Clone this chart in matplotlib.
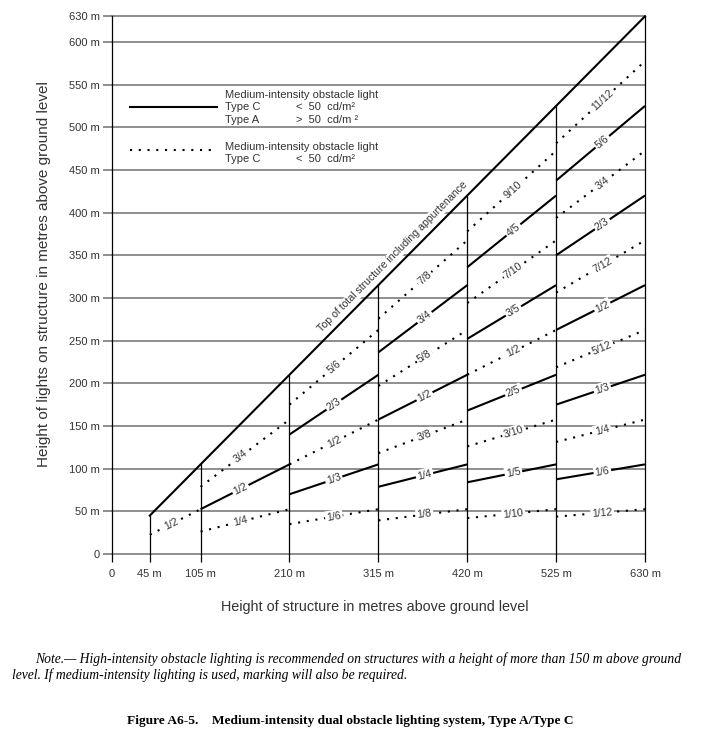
import math
import matplotlib.pyplot as plt
import matplotlib.transforms as mtransforms
from fractions import Fraction

plt.rcParams['font.family'] = ['Liberation Sans', 'DejaVu Sans']

# structure heights where the light levels change
bounds = [45, 105, 210, 315, 420, 525, 630]

# light levels (fraction of structure height) for each interval
fracs = [
    ["1/2"],
    ["1/4", "1/2", "3/4"],
    ["1/6", "1/3", "1/2", "2/3", "5/6"],
    ["1/8", "1/4", "3/8", "1/2", "5/8", "3/4", "7/8"],
    ["1/10", "1/5", "3/10", "2/5", "1/2", "3/5", "7/10", "4/5", "9/10"],
    ["1/12", "1/6", "1/4", "1/3", "5/12", "1/2", "7/12", "2/3", "3/4", "5/6", "11/12"],
]

yticks = [0, 50, 100, 150, 200, 250, 300, 350, 400, 450, 500, 550, 600, 630]
ytick_labels = ["0"] + [f"{v} m" for v in yticks[1:]]
xticks = [0] + bounds
xtick_labels = ["0"] + [f"{v} m" for v in bounds]

# where along each interval the fraction label sits
label_pos = [0.43, 0.45, 0.5, 0.52, 0.52, 0.52]

grey = '#707070'
txt = '#333333'
dots = (0, (1, 3.2))

fig = plt.figure(figsize=(7.02, 7.54), dpi=100)
ax = fig.add_axes([111.7 / 702, 1 - 554 / 754, (645 - 111.7) / 702, (554 - 16.3) / 754])
ax.set_xlim(0, 630)
ax.set_ylim(0, 630)

for s in ['top', 'right', 'bottom']:
    ax.spines[s].set_visible(False)
ax.spines['left'].set_linewidth(0.9)

ax.set_yticks(yticks)
ax.set_yticklabels(ytick_labels)
ax.set_xticks(xticks)
ax.set_xticklabels(xtick_labels)
ax.tick_params(axis='y', length=6.5, width=1.1, color=grey, pad=2, labelsize=8, labelcolor=txt)
ax.tick_params(axis='x', length=6, width=0.9, color='black', pad=5, labelsize=8, labelcolor=txt)
ax.set_axisbelow(True)
ax.yaxis.grid(True, color=grey, lw=1.1)
for gl in ax.get_ygridlines():
    gl.set_clip_on(False)

# top of structure diagonal and vertical steps
ax.plot([bounds[0], bounds[-1]], [bounds[0], bounds[-1]], color='black', lw=1.5, zorder=3, clip_on=False)
for b in bounds:
    ax.plot([b, b], [0, b], color='black', lw=0.9, zorder=2.5, clip_on=False)

tr = mtransforms.offset_copy(ax.transData, fig=fig, x=-2.3, y=2.3, units='points')
ax.text(340, 340, "Top of total structure including appurtenance", rotation=45,
        transform_rotates_text=True, rotation_mode='anchor', transform=tr,
        ha='center', va='bottom', fontsize=7.6, color=txt, zorder=4,
        bbox=dict(boxstyle='square,pad=0.1', fc='white', ec='none'))

for i in range(len(fracs)):
    a, b = bounds[i], bounds[i + 1]
    for k, lab in enumerate(fracs[i], start=1):
        f = float(Fraction(lab))
        if k % 2 == 0:
            ax.plot([a, b], [f * a, f * b], color='black', lw=1.5, zorder=3,
                    solid_capstyle='butt', clip_on=False)
        else:
            ax.plot([a, b], [f * a, f * b], color='black', lw=1.5, ls=dots,
                    dash_capstyle='butt', zorder=3, clip_on=False)
        xl = a + label_pos[i] * (b - a)
        ax.text(xl, f * xl, lab, rotation=math.degrees(math.atan(f)),
                transform_rotates_text=True, rotation_mode='anchor',
                ha='center', va='center', fontsize=7.6, color=txt, zorder=4,
                bbox=dict(boxstyle='square,pad=0.15', fc='white', ec='none'))

# legend
ax.plot([0.034, 0.198], [0.832, 0.832], transform=ax.transAxes, color='black', lw=1.5)
ax.plot([0.034, 0.186], [0.751, 0.751], transform=ax.transAxes, color='black', lw=1.5,
        ls=dots, dash_capstyle='butt')
leg_kw = dict(transform=ax.transAxes, fontsize=8, color=txt, va='center', ha='left')
ax.text(0.213, 0.854, "Medium-intensity obstacle light", **leg_kw)
ax.text(0.213, 0.832, "Type C", **leg_kw)
ax.text(0.346, 0.832, "<  50  cd/m²", **leg_kw)
ax.text(0.213, 0.808, "Type A", **leg_kw)
ax.text(0.346, 0.808, ">  50  cd/m ²", **leg_kw)
ax.text(0.213, 0.756, "Medium-intensity obstacle light", **leg_kw)
ax.text(0.213, 0.735, "Type C", **leg_kw)
ax.text(0.346, 0.735, "<  50  cd/m²", **leg_kw)

# axis titles
fig.text(44 / 702, 1 - 274 / 754, "Height of lights on structure in metres above ground level",
         rotation=90, ha='center', va='center', fontsize=11, color=txt)
fig.text(375 / 702, 1 - 607 / 754, "Height of structure in metres above ground level",
         ha='center', va='center', fontsize=10.4, color=txt)

# note and caption
serif = ['Liberation Serif', 'DejaVu Serif']
fig.text(35 / 702, 1 - 659 / 754,
         "Note.— High-intensity obstacle lighting is recommended on structures with a height of more than 150 m above ground",
         ha='left', va='center', fontsize=9.8, style='italic', family=serif)
fig.text(12 / 702, 1 - 675 / 754,
         "level. If medium-intensity lighting is used, marking will also be required.",
         ha='left', va='center', fontsize=9.8, style='italic', family=serif)
fig.text(350 / 702, 1 - 721 / 754,
         "Figure A6-5.    Medium-intensity dual obstacle lighting system, Type A/Type C",
         ha='center', va='center', fontsize=9.6, weight='bold', family=serif)

fig.savefig("out.png", dpi=100)
